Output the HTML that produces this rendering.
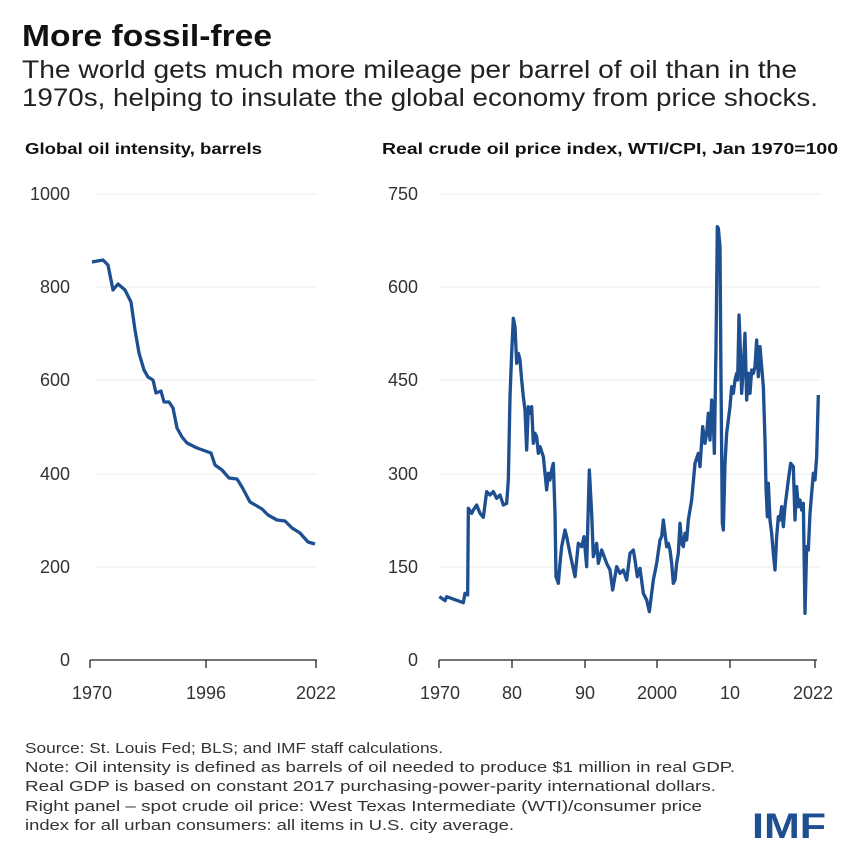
<!DOCTYPE html>
<html><head><meta charset="utf-8"><style>
body{margin:0;background:#fff;}
svg{display:block;font-family:"Liberation Sans",sans-serif;}
</style></head><body>
<svg width="861" height="852" viewBox="0 0 861 852" xmlns="http://www.w3.org/2000/svg">
<rect width="861" height="852" fill="#fff"/>
<text x="22" y="46" font-size="31" font-weight="bold" fill="#111" textLength="250" lengthAdjust="spacingAndGlyphs">More fossil-free</text>
<text x="22" y="78" font-size="25" fill="#222" textLength="775" lengthAdjust="spacingAndGlyphs">The world gets much more mileage per barrel of oil than in the</text>
<text x="22" y="106" font-size="25" fill="#222" textLength="796" lengthAdjust="spacingAndGlyphs">1970s, helping to insulate the global economy from price shocks.</text>
<text x="25" y="154" font-size="16" font-weight="bold" fill="#111" textLength="237" lengthAdjust="spacingAndGlyphs">Global oil intensity, barrels</text>
<text x="382" y="154" font-size="16" font-weight="bold" fill="#111" textLength="456" lengthAdjust="spacingAndGlyphs">Real crude oil price index, WTI/CPI, Jan 1970=100</text>

<g stroke="#eee" stroke-width="1">
<line x1="96" y1="194" x2="316" y2="194"/><line x1="96" y1="287" x2="316" y2="287"/><line x1="96" y1="380" x2="316" y2="380"/><line x1="96" y1="474" x2="316" y2="474"/><line x1="96" y1="567" x2="316" y2="567"/>
<line x1="440" y1="194" x2="820" y2="194"/><line x1="440" y1="287" x2="820" y2="287"/><line x1="440" y1="380" x2="820" y2="380"/><line x1="440" y1="474" x2="820" y2="474"/><line x1="440" y1="567" x2="820" y2="567"/>
</g>
<g font-size="18" fill="#333" text-anchor="end">
<text x="70" y="200">1000</text><text x="70" y="293">800</text><text x="70" y="386">600</text><text x="70" y="480">400</text><text x="70" y="573">200</text><text x="70" y="666">0</text>
<text x="418" y="200">750</text><text x="418" y="293">600</text><text x="418" y="386">450</text><text x="418" y="480">300</text><text x="418" y="573">150</text><text x="418" y="666">0</text>
</g>
<g stroke="#222" stroke-width="1.3">
<line x1="90" y1="660" x2="317" y2="660"/>
<line x1="90" y1="660" x2="90" y2="668"/><line x1="206" y1="660" x2="206" y2="668"/><line x1="316" y1="660" x2="316" y2="668"/>
<line x1="439" y1="660" x2="817" y2="660"/>
<line x1="439" y1="660" x2="439" y2="668"/><line x1="512" y1="660" x2="512" y2="668"/><line x1="585" y1="660" x2="585" y2="668"/><line x1="657" y1="660" x2="657" y2="668"/><line x1="730" y1="660" x2="730" y2="668"/><line x1="815" y1="660" x2="815" y2="668"/>
</g>
<g font-size="18" fill="#333" text-anchor="middle">
<text x="92" y="699">1970</text><text x="206" y="699">1996</text><text x="316" y="699">2022</text>
<text x="440" y="699">1970</text><text x="512" y="699">80</text><text x="585" y="699">90</text><text x="657" y="699">2000</text><text x="730" y="699">10</text><text x="813" y="699">2022</text>
</g>

<polyline fill="none" stroke="#1d4f91" stroke-width="3.3" stroke-linejoin="round" points="92,262 103,260 108,265 113,290 118,284 125,290 131,302 135,330 139,353 144,370 148,377 153,380 156,393 161,391 164,402 169,402 173,408 177,428 182,437 187,443 197,448 211,453 215,465 222,470 229,478 237,479 242,487 250,502 257,506 262,509 268,515 277,520 285,521 292,528 300,533 308,542 315,544"/>

<g transform="translate(380,180) scale(0.33333)">
<polyline fill="none" stroke="#1d4f91" stroke-width="10" stroke-linejoin="round" points="178,1250 190,1258 195,1262 200,1250 250,1268 255,1240 263,1245 265,985 275,1000 280,990 290,975 300,1000 310,1012 320,935 330,945 340,935 350,955 360,945 370,975 380,970 385,900 390,650 395,520 400,415 405,440 410,550 415,520 420,540 425,600 430,650 435,690 440,810 445,680 450,700 455,680 460,790 465,760 470,770 475,820 480,800 490,830 500,930 505,880 510,900 515,870 520,850 525,1000 528,1190 535,1210 540,1150 545,1100 555,1050 560,1070 570,1120 585,1190 595,1090 605,1100 612,1070 620,1160 628,870 635,1000 640,1130 650,1090 655,1150 665,1110 680,1150 690,1170 698,1230 710,1160 720,1180 730,1170 740,1200 750,1120 760,1110 765,1140 772,1190 780,1165 790,1240 800,1260 808,1295 815,1240 820,1200 830,1150 840,1080 845,1070 850,1020 855,1060 860,1100 865,1090 870,1110 875,1150 880,1210 885,1200 890,1150 895,1120 900,1030 905,1090 910,1100 915,1060 920,1080 925,1020 935,960 945,850 955,820 960,860 968,740 975,790 980,760 985,700 990,780 995,660 1000,720 1003,820 1008,500 1012,140 1015,145 1020,200 1023,600 1027,1030 1030,1050 1035,850 1040,760 1045,720 1050,680 1055,620 1060,640 1065,600 1070,580 1073,600 1077,405 1080,480 1085,640 1090,560 1095,460 1100,660 1105,580 1110,640 1115,570 1120,580 1125,560 1130,480 1135,590 1140,500 1145,560 1150,620 1155,780 1158,920 1162,1010 1165,910 1170,1020 1175,1060 1180,1120 1185,1170 1190,1070 1195,1010 1200,1020 1205,980 1210,1040 1215,980 1220,940 1225,900 1232,850 1240,860 1245,1020 1250,920 1255,980 1260,960 1265,990 1270,970 1275,1300 1280,1100 1285,1110 1290,1000 1295,940 1300,880 1305,900 1310,830 1315,645"/>
</g>

<g font-size="15" fill="#333">
<text x="25" y="753" textLength="418" lengthAdjust="spacingAndGlyphs">Source: St. Louis Fed; BLS; and IMF staff calculations.</text>
<text x="25" y="772" textLength="710" lengthAdjust="spacingAndGlyphs">Note: Oil intensity is defined as barrels of oil needed to produce $1 million in real GDP.</text>
<text x="25" y="791" textLength="691" lengthAdjust="spacingAndGlyphs">Real GDP is based on constant 2017 purchasing-power-parity international dollars.</text>
<text x="25" y="811" textLength="677" lengthAdjust="spacingAndGlyphs">Right panel – spot crude oil price: West Texas Intermediate (WTI)/consumer price</text>
<text x="25" y="830" textLength="489" lengthAdjust="spacingAndGlyphs">index for all urban consumers: all items in U.S. city average.</text>
</g>
<text x="752" y="838" font-size="35" font-weight="bold" fill="#1d4f91" textLength="74" lengthAdjust="spacingAndGlyphs">IMF</text>
</svg>
</body></html>
